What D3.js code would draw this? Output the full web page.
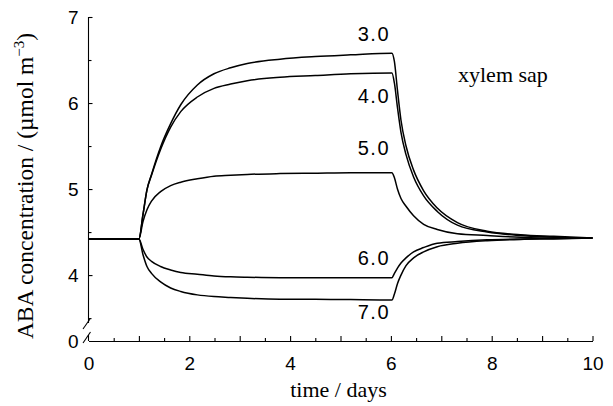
<!DOCTYPE html>
<meta charset="utf-8">
<style>

body {
  margin: 0;
  background: #fff;
}

.axis path,
.axis line {
  fill: none;
  stroke: #000;
  stroke-width: 1.1px;
}

.axis text {
  font: 19px "Liberation Sans", Arial, sans-serif;
  fill: #000;
}

.curve {
  fill: none;
  stroke: #000;
  stroke-width: 1.5px;
}

.clabel {
  font: 20px "Liberation Sans", Arial, sans-serif;
  letter-spacing: 1.5px;
}

.serif {
  font-family: "Liberation Serif", "Times New Roman", serif;
  font-size: 22px;
}

</style>
<body>
<script src="https://cdn.jsdelivr.net/npm/d3@7"></script>
<script>

// time in days, shared by every curve
var time = [0, 1, 1.08, 1.16, 1.25, 1.43, 1.63, 1.83, 2.16, 2.49, 2.82, 3.15, 3.8, 4.5, 5.2,
            6.02, 6.07, 6.13, 6.2, 6.3, 6.45, 6.65, 6.92, 7.32, 7.91, 8.57, 9.23, 10];

// ABA concentration, one array per pH label
var ph30 = [4.42, 4.42, 4.70, 4.99, 5.17, 5.49, 5.76, 5.98, 6.21, 6.34, 6.41, 6.46, 6.51, 6.54, 6.56,
            6.58, 6.48, 6.15, 5.80, 5.50, 5.22, 4.98, 4.78, 4.61, 4.51, 4.47, 4.45, 4.43];
var ph40 = [4.42, 4.42, 4.70, 4.99, 5.16, 5.46, 5.72, 5.90, 6.07, 6.17, 6.22, 6.26, 6.30, 6.32, 6.34,
            6.35, 6.23, 5.95, 5.66, 5.40, 5.14, 4.92, 4.74, 4.58, 4.50, 4.46, 4.44, 4.43];
var ph50 = [4.42, 4.42, 4.62, 4.76, 4.86, 4.97, 5.04, 5.08, 5.12, 5.15, 5.16, 5.17, 5.18, 5.185, 5.19,
            5.19, 5.13, 5.00, 4.89, 4.80, 4.69, 4.59, 4.53, 4.48, 4.46, 4.44, 4.43, 4.43];
var ph60 = [4.42, 4.42, 4.30, 4.21, 4.16, 4.10, 4.06, 4.03, 4.01, 3.99, 3.98, 3.975, 3.97, 3.97, 3.97,
            3.97, 4.02, 4.08, 4.14, 4.20, 4.27, 4.32, 4.37, 4.39, 4.41, 4.42, 4.425, 4.43];
var ph70 = [4.42, 4.42, 4.24, 4.10, 4.02, 3.92, 3.85, 3.81, 3.77, 3.75, 3.74, 3.73, 3.72, 3.72, 3.715,
            3.71, 3.78, 3.90, 4.00, 4.11, 4.20, 4.27, 4.33, 4.37, 4.40, 4.415, 4.42, 4.43];

var seriesNames = ["3.0", "4.0", "5.0", "6.0", "7.0"];
var seriesValues = [ph30, ph40, ph50, ph60, ph70];

var xTicks = d3.range(0, 10.01, 0.5);
var yTicks = [0, 3.5, 4, 4.5, 5, 5.5, 6, 6.5, 7];

var width = 613, height = 406;

var svg = d3.select("body").append("svg")
    .attr("width", width)
    .attr("height", height);

var x = d3.scaleLinear()
    .domain([0, 10])
    .range([88.5, 592.5]);

// broken axis: 0 sits just under the 3.35 break
var y = d3.scaleLinear()
    .domain([0, 3.35, 7])
    .range([341, 331, 17]);

var xAxis = d3.axisBottom(x)
    .tickValues(xTicks)
    .tickSizeInner(-5)
    .tickSizeOuter(0)
    .tickPadding(15.5)
    .tickFormat(function(d) { return d % 2 === 0 ? d : ""; });

var yAxis = d3.axisLeft(y)
    .tickValues(yTicks)
    .tickSizeInner(-4)
    .tickSizeOuter(0)
    .tickPadding(10)
    .tickFormat(function(d) { return d % 1 === 0 ? d : ""; });

var gx = svg.append("g")
    .attr("class", "x axis")
    .attr("transform", "translate(0," + y(0) + ")")
    .call(xAxis);

gx.selectAll(".tick line")
    .attr("y2", function(d) { return d % 1 === 0 ? -5 : -3; });
gx.selectAll(".tick")
    .filter(function(d) { return d === 0; })
    .select("line").remove();

var gy = svg.append("g")
    .attr("class", "y axis")
    .attr("transform", "translate(" + x(0) + ",0)")
    .call(yAxis);

gy.select(".domain").remove();
gy.selectAll(".tick")
    .filter(function(d) { return d === 0; })
    .select("line").remove();
gy.selectAll(".tick line")
    .attr("x2", function(d) { return d % 1 === 0 ? 4 : 3; });

// y axis drawn in two pieces with the break marks
gy.append("line")
    .attr("y1", y(7)).attr("y2", 323);
gy.append("line")
    .attr("y1", 335).attr("y2", y(0));
gy.append("line")
    .attr("x1", -5.5).attr("y1", 329)
    .attr("x2", 1.5).attr("y2", 319);
gy.append("line")
    .attr("x1", -5.5).attr("y1", 343)
    .attr("x2", 2).attr("y2", 332);

var line = d3.line()
    .x(function(d) { return x(d[0]); })
    .y(function(d) { return y(d[1]); })
    .curve(d3.curveMonotoneX);

svg.selectAll(".curve")
    .data(seriesValues)
  .enter().append("path")
    .attr("class", "curve")
    .attr("d", function(vals) {
      return line(time.map(function(t, i) { return [t, vals[i]]; }));
    });

// curve labels, placed just left of the day-6 corner
var labelPos = [
  {dx: -17, y: 6.72},
  {dx: -17, y: 6.0},
  {dx: -17, y: 5.40},
  {dx: -17, y: 4.12},
  {dx: -17, y: 3.49}
];

svg.selectAll(".clabel")
    .data(seriesNames)
  .enter().append("text")
    .attr("class", "clabel")
    .attr("x", function(d, i) { return x(6) + labelPos[i].dx; })
    .attr("y", function(d, i) { return y(labelPos[i].y); })
    .attr("text-anchor", "middle")
    .text(function(d) { return d; });

svg.append("text")
    .attr("class", "serif")
    .attr("x", 458)
    .attr("y", 81.5)
    .text("xylem sap");

svg.append("text")
    .attr("class", "serif")
    .attr("x", x(5) - 2)
    .attr("y", 397)
    .attr("text-anchor", "middle")
    .text("time / days");

var ylab = svg.append("text")
    .attr("class", "serif")
    .style("font-size", "23.5px")
    .attr("transform", "translate(33,186) rotate(-90)")
    .attr("text-anchor", "middle");
ylab.append("tspan").text("ABA concentration / (\u00b5mol m");
ylab.append("tspan")
    .attr("dy", -9)
    .style("font-size", "15px")
    .text("\u22123");
ylab.append("tspan")
    .attr("dy", 9)
    .text(")");

</script>
